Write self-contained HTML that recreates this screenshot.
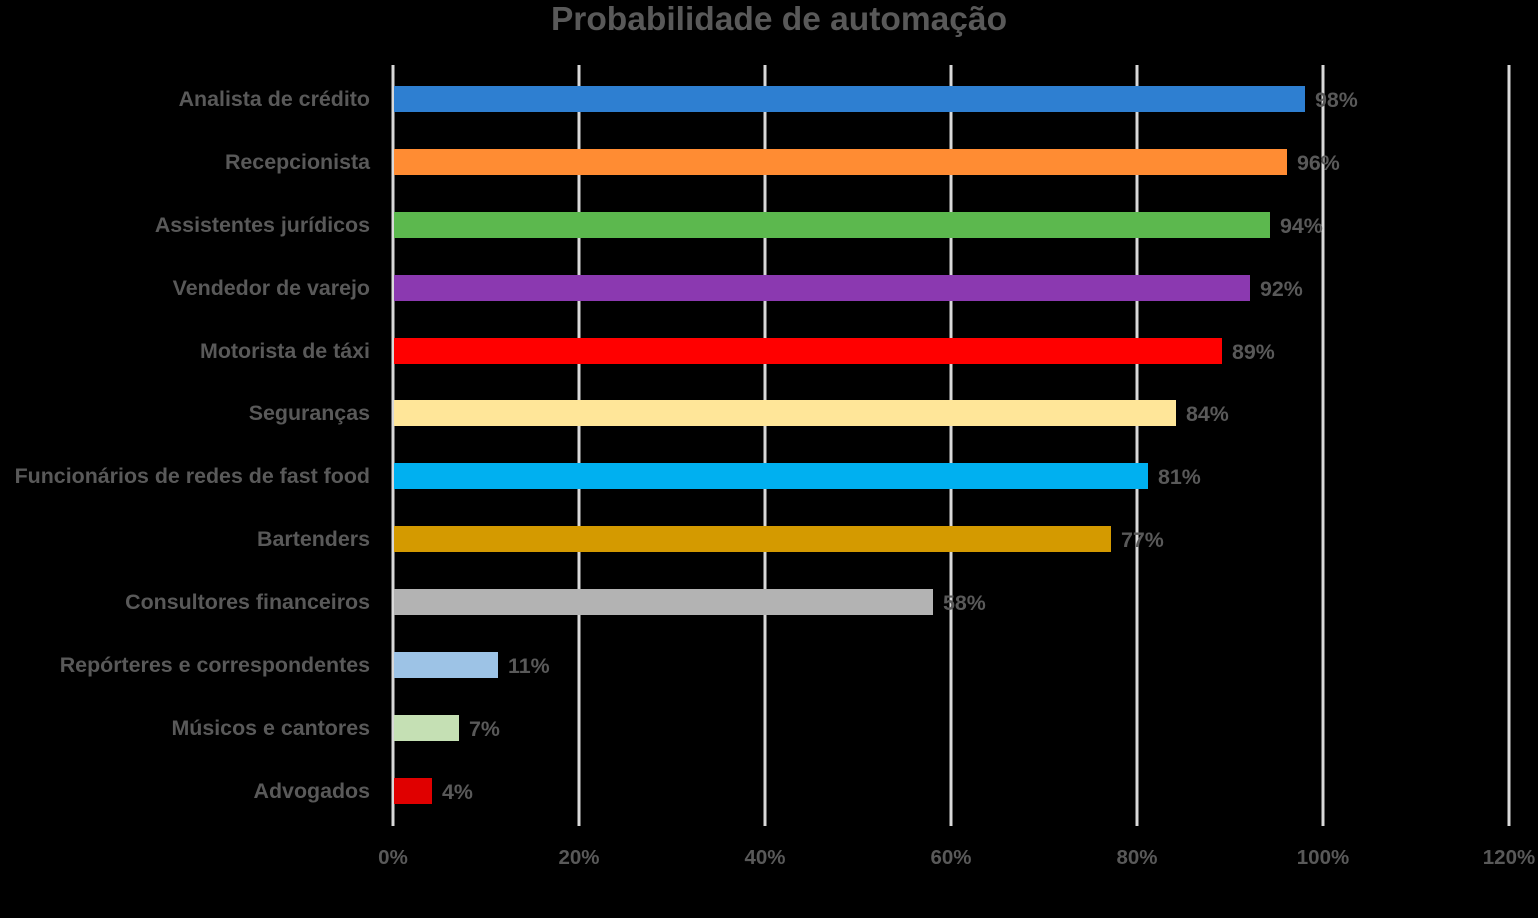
<!DOCTYPE html>
<html><head><meta charset="utf-8"><style>html,body{margin:0;background:#000;}svg{display:block}</style></head>
<body>
<svg width="1538" height="918" xmlns="http://www.w3.org/2000/svg" font-family="Liberation Sans, sans-serif" font-weight="bold">
<rect width="1538" height="918" fill="#000"/>
<text x="779" y="30" text-anchor="middle" font-size="33.5" fill="#595959">Probabilidade de automação</text>
<g stroke="#d9d9d9" stroke-width="3">
<line x1="393" y1="65" x2="393" y2="826"/>
<line x1="579" y1="65" x2="579" y2="826"/>
<line x1="765" y1="65" x2="765" y2="826"/>
<line x1="951" y1="65" x2="951" y2="826"/>
<line x1="1137" y1="65" x2="1137" y2="826"/>
<line x1="1323" y1="65" x2="1323" y2="826"/>
<line x1="1509" y1="65" x2="1509" y2="826"/>
</g>
<g font-size="20.5" fill="#595959" text-anchor="middle">
<text x="393" y="864">0%</text><text x="579" y="864">20%</text><text x="765" y="864">40%</text><text x="951" y="864">60%</text><text x="1137" y="864">80%</text><text x="1323" y="864">100%</text><text x="1509" y="864">120%</text>
</g>
<g font-size="21.4" fill="#595959">
<g text-anchor="end">
<text x="370" y="106">Analista de crédito</text>
<text x="370" y="169">Recepcionista</text>
<text x="370" y="232">Assistentes jurídicos</text>
<text x="370" y="295">Vendedor de varejo</text>
<text x="370" y="358">Motorista de táxi</text>
<text x="370" y="420">Seguranças</text>
<text x="370" y="483">Funcionários de redes de fast food</text>
<text x="370" y="546">Bartenders</text>
<text x="370" y="609">Consultores financeiros</text>
<text x="370" y="672">Repórteres e correspondentes</text>
<text x="370" y="735">Músicos e cantores</text>
<text x="370" y="798">Advogados</text>
</g>
<rect x="394" y="86" width="911" height="26" fill="#2e7fd1"/><text x="1315" y="107">98%</text>
<rect x="394" y="149" width="893" height="26" fill="#ff8c33"/><text x="1297" y="170">96%</text>
<rect x="394" y="212" width="876" height="26" fill="#5cb84e"/><text x="1280" y="233">94%</text>
<rect x="394" y="275" width="856" height="26" fill="#8b39b0"/><text x="1260" y="296">92%</text>
<rect x="394" y="338" width="828" height="26" fill="#ff0000"/><text x="1232" y="359">89%</text>
<rect x="394" y="400" width="782" height="26" fill="#ffe699"/><text x="1186" y="421">84%</text>
<rect x="394" y="463" width="754" height="26" fill="#00b0f0"/><text x="1158" y="484">81%</text>
<rect x="394" y="526" width="717" height="26" fill="#d49a00"/><text x="1121" y="547">77%</text>
<rect x="394" y="589" width="539" height="26" fill="#b3b3b3"/><text x="943" y="610">58%</text>
<rect x="394" y="652" width="104" height="26" fill="#9dc3e6"/><text x="508" y="673">11%</text>
<rect x="394" y="715" width="65" height="26" fill="#c5e0b4"/><text x="469" y="736">7%</text>
<rect x="394" y="778" width="38" height="26" fill="#e00000"/><text x="442" y="799">4%</text>
</g>
</svg>
</body></html>
